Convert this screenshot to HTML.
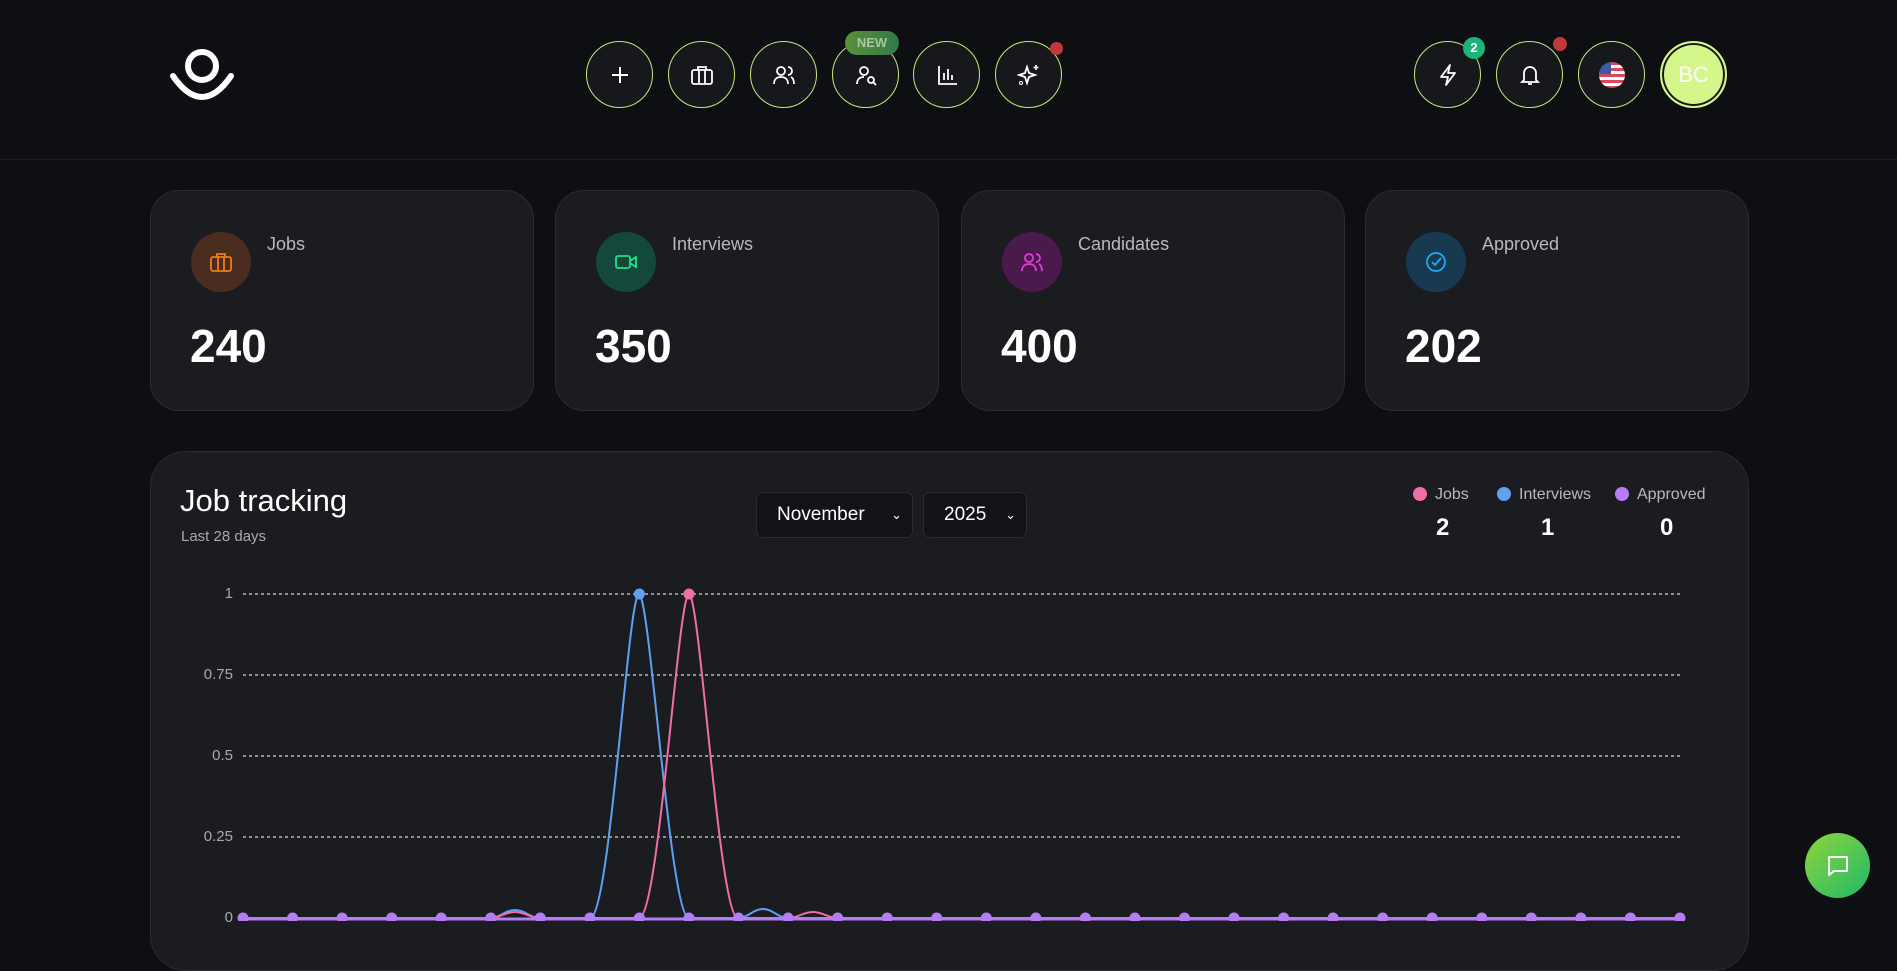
<!DOCTYPE html>
<html><head><meta charset="utf-8"><style>
*{box-sizing:border-box;margin:0;padding:0}
body{width:1897px;height:921px;overflow:hidden;background:#0d0f13;font-family:"Liberation Sans",sans-serif;color:#fff;position:relative}
.hdr{position:absolute;left:0;top:0;width:1897px;height:160px;border-bottom:1px solid #1b1d22}
.btn{position:absolute;width:67px;height:67px;border-radius:50%;border:1.5px solid #c6e87a;background:#16181c;top:41px;display:flex;align-items:center;justify-content:center}
.card{position:absolute;top:190px;width:384px;height:221px;background:#1b1c20;border:1px solid #2a2c31;border-radius:29px}
.ic{position:absolute;left:40px;top:41px;width:60px;height:60px;border-radius:50%;display:flex;align-items:center;justify-content:center}
.lbl{position:absolute;left:116px;top:43px;font-size:18px;color:#b8b9bd}
.num{position:absolute;left:39px;top:128px;font-size:46px;font-weight:bold}
.chart{position:absolute;left:150px;top:451px;width:1599px;height:520px;background:#1b1c20;border:1px solid #2a2c31;border-radius:36px}
.sel{position:absolute;top:492px;height:46px;background:#121317;border:1px solid #2a2c31;border-radius:7px;font-size:19px;display:flex;align-items:center;padding-left:20px}
.yl{position:absolute;font-size:15px;color:#a8a9ad;text-align:right;width:60px;left:173px}
.lg{position:absolute;top:486px;font-size:16px;color:#b8b9bd}
.lg i{display:inline-block;width:14px;height:14px;border-radius:50%;vertical-align:-2px;margin-right:8px}
.lv{position:absolute;top:514px;font-size:24px;font-weight:bold}
</style></head><body>
<div class="hdr"></div>
<svg style="position:absolute;left:168px;top:46px" width="68" height="58" viewBox="0 0 68 58"><circle cx="34" cy="20" r="14" fill="none" stroke="#fff" stroke-width="6"/><path d="M5 30 Q34 72 63 30" fill="none" stroke="#fff" stroke-width="6" stroke-linecap="round"/></svg>
<div class="btn" style="left:586px"><svg width="22" height="22"><path d="M11 3v16M3 11h16" stroke="#fff" stroke-width="2"/></svg></div>
<div class="btn" style="left:668px"><svg width="24" height="22"><rect x="2" y="6" width="20" height="14" rx="2" fill="none" stroke="#fff" stroke-width="1.8"/><path d="M8 6V3h8v3M9 6v14M15 6v14" fill="none" stroke="#fff" stroke-width="1.8"/></svg></div>
<div class="btn" style="left:750px"><svg width="26" height="22"><circle cx="10" cy="7" r="4" fill="none" stroke="#fff" stroke-width="1.8"/><path d="M3 20c0-5 3-7 7-7s7 2 7 7M17 3a4 4 0 010 8M20 13c2 1 3 3 3 7" fill="none" stroke="#fff" stroke-width="1.8"/></svg></div>
<div class="btn" style="left:832px"><svg width="24" height="22"><circle cx="10" cy="7" r="4" fill="none" stroke="#fff" stroke-width="1.8"/><path d="M3 20c0-5 3-7 7-7" fill="none" stroke="#fff" stroke-width="1.8"/><circle cx="17" cy="16" r="3" fill="none" stroke="#fff" stroke-width="1.8"/><path d="M19 18l3 3" stroke="#fff" stroke-width="1.8"/></svg></div>
<div style="position:absolute;left:845px;top:31px;width:54px;height:24px;border-radius:12px;background:linear-gradient(90deg,#5b8f3a,#2f7a4a);font-size:13px;font-weight:bold;color:#a9c6a0;text-align:center;line-height:24px">NEW</div>
<div class="btn" style="left:913px"><svg width="22" height="22"><path d="M3 2v18h18M8 16V9M12 16V5M16 16v-5" fill="none" stroke="#fff" stroke-width="1.8"/></svg></div>
<div class="btn" style="left:995px"><svg width="24" height="24"><path d="M10 4l2 6 6 2-6 2-2 6-2-6-6-2 6-2z" fill="none" stroke="#fff" stroke-width="1.8"/><path d="M19 2v5M16.5 4.5h5" stroke="#fff" stroke-width="1.6"/><circle cx="4" cy="20" r="1.5" fill="none" stroke="#fff"/></svg></div>
<div style="position:absolute;left:1050px;top:42px;width:13px;height:13px;border-radius:50%;background:#c0383a"></div>
<div class="btn" style="left:1414px"><svg width="22" height="24"><path d="M13 2L4 14h7l-2 8 9-12h-7z" fill="none" stroke="#fff" stroke-width="1.8" stroke-linejoin="round"/></svg></div>
<div style="position:absolute;left:1463px;top:37px;width:22px;height:22px;border-radius:50%;background:#1db47c;font-size:13px;font-weight:bold;text-align:center;line-height:22px">2</div>
<div class="btn" style="left:1496px"><svg width="22" height="24"><path d="M5 17V10a6 6 0 0112 0v7l2 2H3zM9 21h4" fill="none" stroke="#fff" stroke-width="1.8"/></svg></div>
<div style="position:absolute;left:1553px;top:37px;width:14px;height:14px;border-radius:50%;background:#c0383a"></div>
<div class="btn" style="left:1578px"><div style="width:26px;height:26px;border-radius:50%;overflow:hidden;background:repeating-linear-gradient(180deg,#d9475a 0 3px,#fff 3px 6px);position:relative"><div style="position:absolute;left:0;top:0;width:12px;height:12px;background:#3b5ba8"></div></div></div>
<div class="btn" style="left:1660px;background:#d4f68a;border:2px solid #d4f68a;box-shadow:inset 0 0 0 2px #16181c;font-size:22px;color:#fff">BC</div>

<div class="card" style="left:150px"><div class="ic" style="background:#4a2d1e"><svg width="24" height="22"><rect x="2" y="6" width="20" height="14" rx="2" fill="none" stroke="#f07a1a" stroke-width="1.8"/><path d="M8 6V3h8v3M9 6v14M15 6v14" fill="none" stroke="#f07a1a" stroke-width="1.8"/></svg></div><div class="lbl">Jobs</div><div class="num">240</div></div>
<div class="card" style="left:555px"><div class="ic" style="background:#14483a"><svg width="24" height="20"><rect x="2" y="4" width="14" height="12" rx="2" fill="none" stroke="#22e08a" stroke-width="1.8"/><path d="M16 9l6-4v10l-6-4" fill="none" stroke="#22e08a" stroke-width="1.8"/></svg></div><div class="lbl">Interviews</div><div class="num">350</div></div>
<div class="card" style="left:961px"><div class="ic" style="background:#4a1a4c"><svg width="26" height="22"><circle cx="10" cy="7" r="4" fill="none" stroke="#e63adf" stroke-width="1.8"/><path d="M3 20c0-5 3-7 7-7s7 2 7 7M17 3a4 4 0 010 8M20 13c2 1 3 3 3 7" fill="none" stroke="#e63adf" stroke-width="1.8"/></svg></div><div class="lbl">Candidates</div><div class="num">400</div></div>
<div class="card" style="left:1365px"><div class="ic" style="background:#173a50"><svg width="24" height="24"><circle cx="12" cy="12" r="9" fill="none" stroke="#22a8f0" stroke-width="1.8"/><path d="M8 12l3 3 6-7" fill="none" stroke="#22a8f0" stroke-width="1.8"/></svg></div><div class="lbl">Approved</div><div class="num">202</div></div>

<div class="chart"></div>
<div style="position:absolute;left:180px;top:483px;font-size:31px">Job tracking</div>
<div style="position:absolute;left:181px;top:528px;font-size:15px;color:#a8a9ad">Last 28 days</div>
<div class="sel" style="left:756px;width:157px">November<span style="position:absolute;right:10px;font-size:13px">&#8964;</span></div>
<div class="sel" style="left:923px;width:104px">2025<span style="position:absolute;right:10px;font-size:13px">&#8964;</span></div>
<div class="lg" style="left:1413px"><i style="background:#f06ea8"></i>Jobs</div>
<div class="lg" style="left:1497px"><i style="background:#5fa0f2"></i>Interviews</div>
<div class="lg" style="left:1615px"><i style="background:#b57cf5"></i>Approved</div>
<div class="lv" style="left:1436px">2</div>
<div class="lv" style="left:1541px">1</div>
<div class="lv" style="left:1660px">0</div>
<div class="yl" style="top:585px">1</div>
<div class="yl" style="top:666px">0.75</div>
<div class="yl" style="top:747px">0.5</div>
<div class="yl" style="top:828px">0.25</div>
<div class="yl" style="top:909px">0</div>
<svg style="position:absolute;left:0;top:0" width="1897" height="921">
<g stroke="#d8d8d8" stroke-width="1.3" stroke-dasharray="3 3"><path d="M243 594H1680M243 675H1680M243 756H1680M243 837H1680"/></g>
<path d="M243 918H490C500 918 505 910 515 910C525 910 530 918 540 918H590C610 918 628 594 639 594C650 594 670 918 689 918H738C748 918 753 909 763 909C773 909 778 918 788 918H1680" fill="none" stroke="#5fa0f2" stroke-width="2"/>
<path d="M243 918H490C500 918 505 912 515 912C525 912 530 918 540 918H639C659 918 678 594 689 594C700 594 719 918 738 918H788C798 918 803 912 813 912C823 912 828 918 838 918H1680" fill="none" stroke="#f06ea8" stroke-width="2"/>
<path d="M243 919H1680" stroke="#b57cf5" stroke-width="3"/>
<g fill="#b57cf5">
<circle cx="243" cy="918" r="5.5"/><circle cx="292.6" cy="918" r="5.5"/><circle cx="342.1" cy="918" r="5.5"/><circle cx="391.7" cy="918" r="5.5"/><circle cx="441.2" cy="918" r="5.5"/><circle cx="490.8" cy="918" r="5.5"/><circle cx="540.3" cy="918" r="5.5"/><circle cx="589.9" cy="918" r="5.5"/><circle cx="639.4" cy="918" r="5.5"/><circle cx="689" cy="918" r="5.5"/><circle cx="738.5" cy="918" r="5.5"/><circle cx="788.1" cy="918" r="5.5"/><circle cx="837.6" cy="918" r="5.5"/><circle cx="887.2" cy="918" r="5.5"/><circle cx="936.7" cy="918" r="5.5"/><circle cx="986.3" cy="918" r="5.5"/><circle cx="1035.8" cy="918" r="5.5"/><circle cx="1085.4" cy="918" r="5.5"/><circle cx="1134.9" cy="918" r="5.5"/><circle cx="1184.5" cy="918" r="5.5"/><circle cx="1234" cy="918" r="5.5"/><circle cx="1283.6" cy="918" r="5.5"/><circle cx="1333.1" cy="918" r="5.5"/><circle cx="1382.7" cy="918" r="5.5"/><circle cx="1432.2" cy="918" r="5.5"/><circle cx="1481.8" cy="918" r="5.5"/><circle cx="1531.3" cy="918" r="5.5"/><circle cx="1580.9" cy="918" r="5.5"/><circle cx="1630.4" cy="918" r="5.5"/><circle cx="1680" cy="918" r="5.5"/>
</g>
<circle cx="639.4" cy="594" r="5.5" fill="#5fa0f2"/><circle cx="689" cy="594" r="5.5" fill="#f06ea8"/>
</svg>
<div style="position:absolute;left:1805px;top:833px;width:65px;height:65px;border-radius:50%;background:linear-gradient(135deg,#8fd63a,#1fb86a);display:flex;align-items:center;justify-content:center"><svg width="26" height="26"><path d="M4 4h18v14H9l-5 4z" fill="none" stroke="#fff" stroke-width="2" stroke-linejoin="round"/></svg></div>
</body></html>
